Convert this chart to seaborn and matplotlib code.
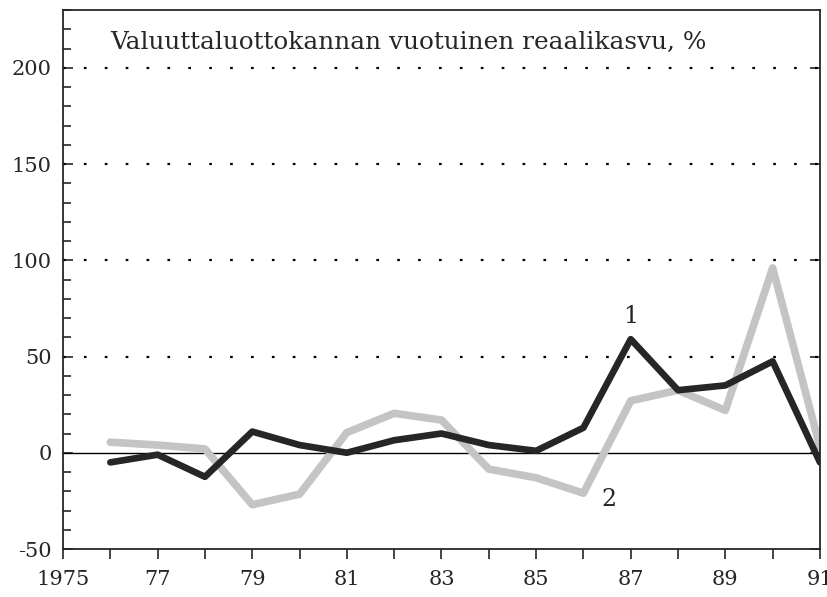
import numpy as np
import pandas as pd
import matplotlib.pyplot as plt
import seaborn as sns
from matplotlib.ticker import MultipleLocator

# ── Data ──────────────────────────────────────────────────────────────────────
years = list(range(1976, 1992))
series_1 = [-5, -1, -12.5, 11, 4, 0, 6.5, 10, 4, 1, 13, 59, 32.5, 35, 47.5, -5]
series_2 = [5.5, 4, 2, -27, -21.5, 10.5, 20.5, 17, -8.5, -13, -21, 27, 32.5, 22, 96, 3]

title = 'Valuuttaluottokannan vuotuinen reaalikasvu, %'
xtick_years = list(range(1975, 1992, 2))
xtick_labels = ['1975'] + [str(y)[2:] for y in xtick_years[1:]]
ytick_values = [-50, 0, 50, 100, 150, 200]
grid_values = [50, 100, 150, 200]

df = pd.DataFrame({'year': years * 2,
                   'value': series_1 + series_2,
                   'series': ['1'] * len(years) + ['2'] * len(years)})

# ── Style ─────────────────────────────────────────────────────────────────────
sns.set_style('ticks')
plt.rcParams['font.family'] = ['DejaVu Serif']

fig = plt.figure(figsize=(8.27, 5.97), dpi=100)
ax = fig.add_axes([0.0762, 0.0804, 0.9153, 0.9028])

# dotted reference lines and the solid zero line
for v in grid_values:
    ax.axhline(v, color='black', lw=1.6, linestyle=(0, (1.2, 8.2)), zorder=1)
ax.axhline(0, color='black', lw=1.0, zorder=1)

sns.lineplot(data=df[df['series'] == '2'], x='year', y='value', ax=ax,
             color='#c4c4c4', lw=5.5, zorder=2, legend=False)
sns.lineplot(data=df[df['series'] == '1'], x='year', y='value', ax=ax,
             color='#262626', lw=4.8, zorder=3, legend=False)

ax.text(1987, 71, '1', fontsize=17, ha='center', va='center')
ax.text(1986.55, -24.5, '2', fontsize=17, ha='center', va='center')
ax.text(1976, 213, title, fontsize=17.8, ha='left', va='center')

ax.set_xlim(1975, 1991)
ax.set_ylim(-50, 230)
ax.set_xticks(range(1975, 1992))
ax.set_xticklabels([xtick_labels[xtick_years.index(y)] if y in xtick_years else ''
                    for y in range(1975, 1992)], fontsize=15)
ax.set_yticks(ytick_values)
ax.set_yticklabels([str(v) for v in ytick_values], fontsize=15)
ax.yaxis.set_minor_locator(MultipleLocator(10))
ax.tick_params(axis='x', direction='out', length=7, width=1.2, pad=8)
ax.tick_params(axis='y', which='major', direction='in', length=7, width=1.2,
               pad=8, right=True)
ax.tick_params(axis='y', which='minor', direction='in', length=6, width=1.2)
ax.set_xlabel('')
ax.set_ylabel('')
for s in ax.spines.values():
    s.set_visible(True)
    s.set_linewidth(1.3)

plt.savefig('out.png', dpi=100)
plt.close()
